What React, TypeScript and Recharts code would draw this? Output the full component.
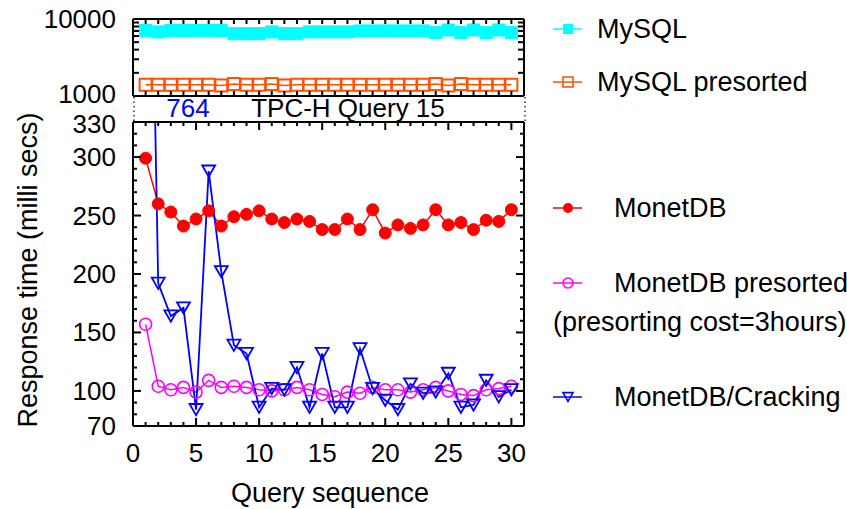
import React from 'react';
import { LineChart, Line, XAxis, YAxis } from 'recharts';

const queries = [1, 2, 3, 4, 5, 6, 7, 8, 9, 10, 11, 12, 13, 14, 15, 16, 17, 18, 19, 20, 21, 22, 23, 24, 25, 26, 27, 28, 29, 30];
const mysql = [7100, 6800, 7100, 7100, 7100, 7100, 7100, 6450, 6450, 6450, 6800, 6450, 6450, 6800, 6800, 6800, 6800, 7000, 7000, 7000, 7000, 7000, 7000, 6650, 7200, 6650, 7200, 6650, 7200, 6650];
const mysqlPresorted = [1400, 1400, 1400, 1400, 1400, 1400, 1370, 1430, 1400, 1400, 1430, 1370, 1400, 1400, 1400, 1400, 1400, 1400, 1400, 1400, 1400, 1400, 1400, 1430, 1370, 1430, 1400, 1400, 1400, 1400];
const monetdb = [299, 260, 253, 241, 247, 254, 241, 249, 251, 254, 247, 244, 247, 245, 238, 238, 247, 238, 255, 235, 242, 239, 242, 255, 242, 244, 238, 246, 245, 255];
const monetdbPresorted = [157, 104, 101, 103, 99, 109, 103, 104, 103, 101, 100, 101, 103, 101, 97, 95, 99, 98, 103, 101, 101, 99, 101, 103, 100, 97, 96, 101, 102, 104];
const cracking = [764, 192, 164, 171, 84, 288, 202, 139, 132, 86, 102, 101, 120, 86, 132, 86, 86, 136, 102, 92, 84, 106, 98, 99, 115, 86, 88, 109, 95, 101];

const xTicks = [0, 1, 2, 3, 4, 5, 6, 7, 8, 9, 10, 11, 12, 13, 14, 15, 16, 17, 18, 19, 20, 21, 22, 23, 24, 25, 26, 27, 28, 29, 30];
const xMajor = [0, 5, 10, 15, 20, 25, 30];
const topYTicks = [1000, 2000, 3000, 4000, 5000, 6000, 7000, 8000, 9000, 10000];
const topYLabels = [1000, 10000];
const bottomYTicks = [70, 80, 90, 100, 110, 120, 130, 140, 150, 160, 170, 180, 190, 200, 210, 220, 230, 240, 250, 260, 270, 280, 290, 300, 310, 320, 330];
const bottomYMajor = [100, 150, 200, 250, 300];
const bottomYLabels = [70, 100, 150, 200, 250, 300, 330];

const FONT = 'Liberation Sans, Arial, Helvetica, sans-serif';
const FS = 26;
const FT = 27;

const data = queries.map((q, i) => ({
  q,
  mysql: mysql[i],
  mysqlPresorted: mysqlPresorted[i],
  monetdb: monetdb[i],
  monetdbPresorted: monetdbPresorted[i],
  cracking: cracking[i],
}));

type Side = 'bottom' | 'top' | 'left' | 'right';

// small vertical nudges for labels that sit at the panel joints
const labelNudge: Record<number, number> = { 1000: -2, 330: 2 };

const makeTick = (side: Side, major: number[], labels: number[], majorLen: number, minorLen: number) => (props: any) => {
  const { x, y, payload } = props;
  const v = payload.value;
  const len = major.includes(v) ? majorLen : minorLen;
  const showLabel = labels.includes(v);
  let line;
  let label = null;
  if (side === 'bottom') {
    line = <line x1={x} y1={y} x2={x} y2={y - len} stroke="#000" strokeWidth={2} />;
    if (showLabel) label = <text x={x} y={y + 27} textAnchor="middle" dominantBaseline="central" fontFamily={FONT} fontSize={FS} fill="#000">{v}</text>;
  } else if (side === 'top') {
    line = <line x1={x} y1={y} x2={x} y2={y + len} stroke="#000" strokeWidth={2} />;
  } else if (side === 'left') {
    line = <line x1={x} y1={y} x2={x + len} y2={y} stroke="#000" strokeWidth={2} />;
    if (showLabel) label = <text x={x - 17} y={y + (labelNudge[v] || 0)} textAnchor="end" dominantBaseline="central" fontFamily={FONT} fontSize={FS} fill="#000">{v}</text>;
  } else {
    line = <line x1={x} y1={y} x2={x - len} y2={y} stroke="#000" strokeWidth={2} />;
  }
  return (
    <g>
      {line}
      {label}
    </g>
  );
};

const filledSquare = (color: string, s: number) => (props: any) => {
  const { cx, cy, index } = props;
  if (cx == null || cy == null) return <g key={index} />;
  return <rect key={index} x={cx - s / 2} y={cy - s / 2} width={s} height={s} fill={color} stroke={color} strokeWidth={1} />;
};
const openSquare = (color: string, s: number) => (props: any) => {
  const { cx, cy, index } = props;
  if (cx == null || cy == null) return <g key={index} />;
  return <rect key={index} x={cx - s / 2} y={cy - s / 2} width={s} height={s} fill="none" stroke={color} strokeWidth={2} />;
};
const filledCircle = (color: string, r: number) => (props: any) => {
  const { cx, cy, index } = props;
  if (cx == null || cy == null) return <g key={index} />;
  return <circle key={index} cx={cx} cy={cy} r={r} fill={color} stroke={color} strokeWidth={1} />;
};
const openCircle = (color: string, r: number) => (props: any) => {
  const { cx, cy, index } = props;
  if (cx == null || cy == null) return <g key={index} />;
  return <circle key={index} cx={cx} cy={cy} r={r} fill="none" stroke={color} strokeWidth={1.6} />;
};
const downTriangle = (color: string, w: number) => (props: any) => {
  const { cx, cy, index } = props;
  if (cx == null || cy == null) return <g key={index} />;
  const h = w * 0.866;
  const pts = `${cx - w / 2},${cy - h / 2} ${cx + w / 2},${cy - h / 2} ${cx},${cy + h / 2}`;
  return <polygon key={index} points={pts} fill="none" stroke={color} strokeWidth={1.8} />;
};

const axisLine = { stroke: '#000', strokeWidth: 2 };

const LEFT = 133;
const RIGHT = 524;
const W = 847;
const H = 509;

const TopPanel = () => (
  <LineChart width={W} height={110} data={data} margin={{ top: 14, right: W - RIGHT - 10, bottom: 9, left: LEFT - 60 }}>
    <XAxis xAxisId="bottom" dataKey="q" type="number" domain={[0, 31]} ticks={xTicks} interval={0} allowDataOverflow orientation="bottom" height={5} tickSize={0} tickMargin={0} tickLine={false} axisLine={axisLine} tick={makeTick('bottom', xMajor, [], 5, 5) as any} />
    <XAxis xAxisId="top" dataKey="q" type="number" domain={[0, 31]} ticks={xTicks} interval={0} allowDataOverflow orientation="top" height={5} tickSize={0} tickMargin={0} tickLine={false} axisLine={axisLine} tick={makeTick('top', xMajor, [], 5, 5) as any} />
    <YAxis yAxisId="left" type="number" scale="log" domain={[1000, 10000]} ticks={topYTicks} interval={0} allowDataOverflow width={60} tickSize={0} tickMargin={0} tickLine={false} axisLine={axisLine} tick={makeTick('left', topYLabels, topYLabels, 7, 6) as any} />
    <YAxis yAxisId="right" orientation="right" type="number" scale="log" domain={[1000, 10000]} ticks={topYTicks} interval={0} allowDataOverflow width={10} tickSize={0} tickMargin={0} tickLine={false} axisLine={axisLine} tick={makeTick('right', topYLabels, [], 7, 6) as any} />
    <Line xAxisId="bottom" yAxisId="left" type="linear" dataKey="mysql" stroke="#00ffff" strokeWidth={1.5} dot={filledSquare('#00ffff', 12) as any} isAnimationActive={false} />
    <Line xAxisId="bottom" yAxisId="left" type="linear" dataKey="mysqlPresorted" stroke="#ff5000" strokeWidth={1.5} dot={openSquare('#ff5000', 12) as any} isAnimationActive={false} />
  </LineChart>
);

const BottomPanel = () => (
  <LineChart width={W} height={H} data={data} margin={{ top: 117, right: W - RIGHT - 10, bottom: 43, left: LEFT - 60 }}>
    <XAxis xAxisId="bottom" dataKey="q" type="number" domain={[0, 31]} ticks={xTicks} interval={0} allowDataOverflow orientation="bottom" height={40} tickSize={0} tickMargin={0} tickLine={false} axisLine={axisLine} tick={makeTick('bottom', xMajor, xMajor, 8, 4) as any} />
    <XAxis xAxisId="top" dataKey="q" type="number" domain={[0, 31]} ticks={xTicks} interval={0} allowDataOverflow orientation="top" height={5} tickSize={0} tickMargin={0} tickLine={false} axisLine={axisLine} tick={makeTick('top', xMajor, [], 8, 4) as any} />
    <YAxis yAxisId="left" type="number" domain={[70, 330]} ticks={bottomYTicks} interval={0} allowDataOverflow width={60} tickSize={0} tickMargin={0} tickLine={false} axisLine={axisLine} tick={makeTick('left', bottomYMajor, bottomYLabels, 8, 4) as any} />
    <YAxis yAxisId="right" orientation="right" type="number" domain={[70, 330]} ticks={bottomYTicks} interval={0} allowDataOverflow width={10} tickSize={0} tickMargin={0} tickLine={false} axisLine={axisLine} tick={makeTick('right', bottomYMajor, [], 8, 4) as any} />
    <Line xAxisId="bottom" yAxisId="left" type="linear" dataKey="monetdb" stroke="#ff0000" strokeWidth={1.5} dot={filledCircle('#ff0000', 6) as any} isAnimationActive={false} />
    <Line xAxisId="bottom" yAxisId="left" type="linear" dataKey="monetdbPresorted" stroke="#ff00ff" strokeWidth={1.5} dot={openCircle('#ff00ff', 6) as any} isAnimationActive={false} />
    <Line xAxisId="bottom" yAxisId="left" type="linear" dataKey="cracking" stroke="#0000ff" strokeWidth={1.8} dot={downTriangle('#0000ff', 13) as any} isAnimationActive={false} />
  </LineChart>
);

const legendItems = [
  { label: 'MySQL', y: 29, tx: 597, color: '#00ffff', kind: 'fsq' },
  { label: 'MySQL presorted', y: 82, tx: 597, color: '#ff5000', kind: 'osq' },
  { label: 'MonetDB', y: 208, tx: 614, color: '#ff0000', kind: 'fci' },
  { label: 'MonetDB presorted', y: 283, tx: 614, color: '#ff00ff', kind: 'oci' },
  { label: 'MonetDB/Cracking', y: 397, tx: 614, color: '#0000ff', kind: 'tri' },
];

const legendMarker = (kind: string, color: string, x: number, y: number) => {
  const s = 10;
  if (kind === 'fsq') return <rect x={x - s / 2} y={y - s / 2} width={s} height={s} fill={color} />;
  if (kind === 'osq') return <rect x={x - s / 2} y={y - s / 2} width={s} height={s} fill="none" stroke={color} strokeWidth={1.6} />;
  if (kind === 'fci') return <circle cx={x} cy={y} r={s / 2} fill={color} />;
  if (kind === 'oci') return <circle cx={x} cy={y} r={s / 2} fill="none" stroke={color} strokeWidth={1.6} />;
  const h = s * 0.866;
  return <polygon points={`${x - s / 2},${y - h / 2} ${x + s / 2},${y - h / 2} ${x},${y + h / 2}`} fill="none" stroke={color} strokeWidth={1.6} />;
};

const Overlay = () => (
  <svg width={W} height={H} style={{ position: 'absolute', left: 0, top: 0, pointerEvents: 'none' }}>
    <line x1={134} y1={97} x2={134} y2={121} stroke="#000" strokeWidth={1.2} strokeDasharray="1.5 3" />
    <line x1={525} y1={97} x2={525} y2={121} stroke="#000" strokeWidth={1.2} strokeDasharray="1.5 3" />
    <text x={188} y={108} textAnchor="middle" dominantBaseline="central" fontFamily={FONT} fontSize={FS} fill="#0000ff">{cracking[0]}</text>
    <text x={348} y={108} textAnchor="middle" dominantBaseline="central" fontFamily={FONT} fontSize={FS} fill="#000">TPC-H Query 15</text>
    <text x={330} y={493} textAnchor="middle" dominantBaseline="central" fontFamily={FONT} fontSize={FT} fill="#000">Query sequence</text>
    <text x={28} y={270} textAnchor="middle" dominantBaseline="central" fontFamily={FONT} fontSize={FT} fill="#000" transform="rotate(-90 28 270)">Response time (milli secs)</text>
    {legendItems.map((it) => (
      <g key={it.label}>
        <line x1={553} y1={it.y} x2={582} y2={it.y} stroke={it.color} strokeWidth={1.5} />
        {legendMarker(it.kind, it.color, 568, it.y)}
        <text x={it.tx} y={it.y} dominantBaseline="central" fontFamily={FONT} fontSize={FT} fill="#000">{it.label}</text>
      </g>
    ))}
    <text x={553} y={322} dominantBaseline="central" fontFamily={FONT} fontSize={FT} fill="#000">(presorting cost=3hours)</text>
  </svg>
);

export default function App() {
  return (
    <div style={{ position: 'absolute', left: 0, top: 0, width: W, height: H, background: '#fff' }}>
      <div style={{ position: 'absolute', left: 0, top: 0 }}>
        <TopPanel />
      </div>
      <div style={{ position: 'absolute', left: 0, top: 0 }}>
        <BottomPanel />
      </div>
      <Overlay />
    </div>
  );
}
